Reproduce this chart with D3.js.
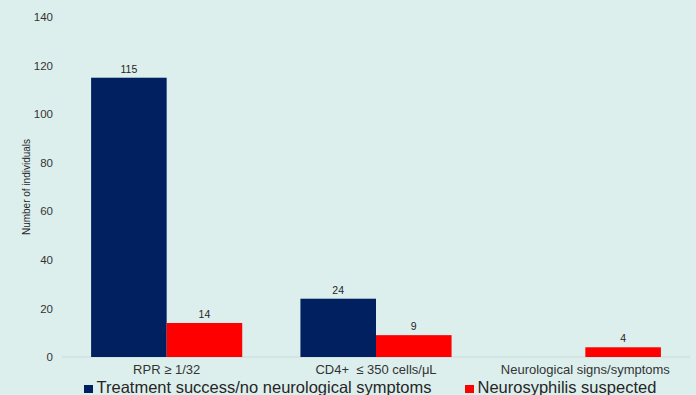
<!DOCTYPE html>
<html>
<head>
<meta charset="utf-8">
<script src="https://cdn.jsdelivr.net/npm/d3@7"></script>
<style>
  html, body { margin: 0; padding: 0; background: #dcefed; }
  svg { display: block; }
  text { font-family: "Liberation Sans", Arial, sans-serif; }
</style>
</head>
<body>
<svg id="chart" width="696" height="395"></svg>
<script>
// Categories and series values
const categories = ["RPR \u2265 1/32", "CD4+\u00a0 \u2264 350 cells/\u03bcL", "Neurological signs/symptoms"];
const seriesNames = ["Treatment success/no neurological symptoms", "Neurosyphilis suspected"];
const successValues = [115, 24, 0];
const suspectedValues = [14, 9, 4];
const yTicks = [0, 20, 40, 60, 80, 100, 120, 140];
const colors = ["#002060", "#ff0000"];

const W = 696, H = 395;
const margin = { left: 62, right: 6, top: 17, bottom: 38 };
const svg = d3.select("#chart");

const x = d3.scaleBand().domain(categories).range([margin.left, W - margin.right]).paddingInner(0.278).paddingOuter(0.139);
const xs = d3.scaleBand().domain(seriesNames).range([0, x.bandwidth()]);
const y = d3.scaleLinear().domain([0, 140]).range([H - margin.bottom, margin.top]);

const rows = categories.map((c, i) => ({ cat: c, vals: [successValues[i], suspectedValues[i]] }));

// Baseline
svg.append("line")
  .attr("x1", margin.left).attr("x2", W - margin.right)
  .attr("y1", y(0)).attr("y2", y(0))
  .attr("stroke", "#c9d9d8").attr("stroke-width", 1);

// Y axis tick labels
const yAxis = d3.axisLeft(y).tickValues(yTicks).tickSize(0).tickPadding(9);
const gy = svg.append("g").attr("transform", `translate(${margin.left},0)`).call(yAxis);
gy.select(".domain").remove();
gy.selectAll("text").attr("font-size", 11.5).attr("fill", "#333333")
  .attr("font-family", "Liberation Sans, Arial, sans-serif");

// X axis labels
const xAxis = d3.axisBottom(x).tickSize(0).tickPadding(8);
const gx = svg.append("g").attr("transform", `translate(0,${y(0)})`).call(xAxis);
gx.select(".domain").remove();
gx.selectAll("text").attr("font-size", 13).attr("fill", "#333333")
  .attr("font-family", "Liberation Sans, Arial, sans-serif");

// Bars
const groups = svg.append("g").selectAll("g").data(rows).join("g")
  .attr("transform", d => `translate(${x(d.cat)},0)`);

groups.selectAll("rect")
  .data(d => d.vals.map((v, k) => ({ v, k })).filter(e => e.v > 0))
  .join("rect")
  .attr("x", e => xs(seriesNames[e.k]))
  .attr("width", xs.bandwidth())
  .attr("y", e => y(e.v))
  .attr("height", e => y(0) - y(e.v))
  .attr("fill", e => colors[e.k]);

// Value labels
groups.selectAll("text.val")
  .data(d => d.vals.map((v, k) => ({ v, k })).filter(e => e.v > 0))
  .join("text")
  .attr("class", "val")
  .attr("x", e => xs(seriesNames[e.k]) + xs.bandwidth() / 2)
  .attr("y", e => y(e.v) - 5)
  .attr("text-anchor", "middle")
  .attr("font-size", 10.5)
  .attr("fill", "#262626")
  .text(e => e.v);

// Y axis title
svg.append("text")
  .attr("transform", `translate(30,${(margin.top + y(0)) / 2}) rotate(-90)`)
  .attr("text-anchor", "middle")
  .attr("font-size", 10)
  .attr("fill", "#262626")
  .text("Number of individuals");

// Legend
const legendItems = [
  { name: seriesNames[0], color: colors[0], x: 84 },
  { name: seriesNames[1], color: colors[1], x: 465 }
];
const lg = svg.append("g").selectAll("g").data(legendItems).join("g")
  .attr("transform", d => `translate(${d.x},0)`);
lg.append("rect").attr("x", 0).attr("y", 385).attr("width", 9).attr("height", 8).attr("fill", d => d.color);
lg.append("text").attr("x", 12.5).attr("y", 393).attr("font-size", 16.5).attr("fill", "#262626").text(d => d.name);
</script>
</body>
</html>
